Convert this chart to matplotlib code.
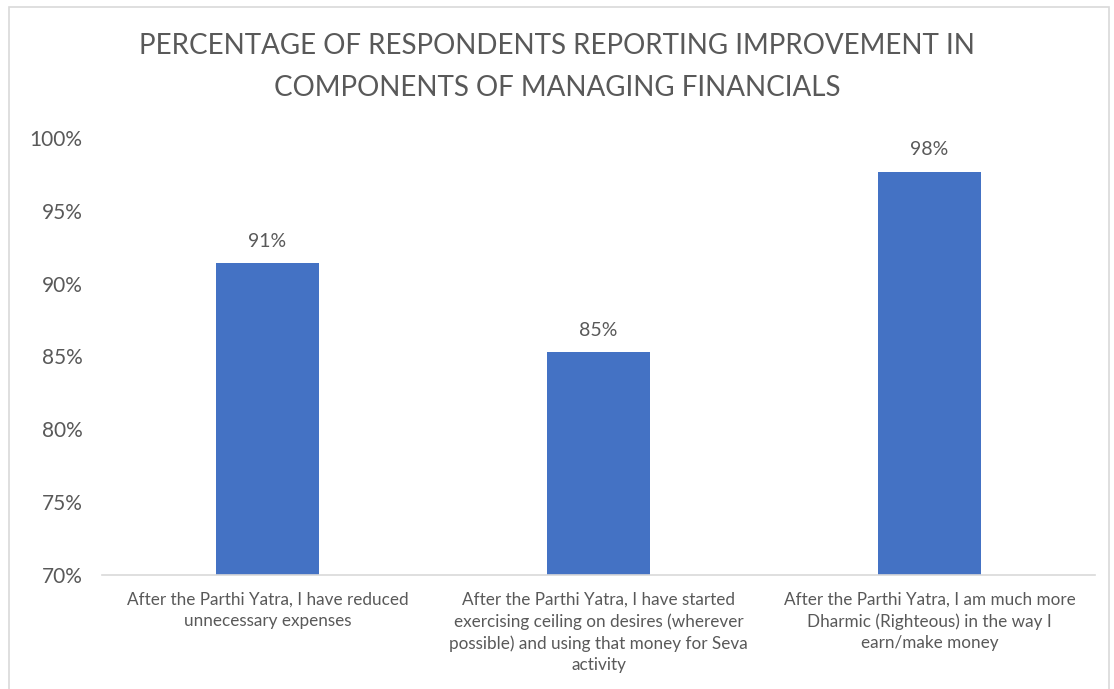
import matplotlib.pyplot as plt
from matplotlib.patches import Rectangle
from matplotlib.ticker import FuncFormatter

categories = [
    "After the Parthi Yatra, I have reduced\nunnecessary expenses",
    "After the Parthi Yatra, I have started\nexercising ceiling on desires (wherever\npossible) and using that money for Seva\nactivity",
    "After the Parthi Yatra, I am much more\nDharmic (Righteous) in the way I\nearn/make money",
]
values = [91.4, 85.3, 97.7]
y_ticks = [70, 75, 80, 85, 90, 95, 100]

text_color = "#595959"
bar_color = "#4472C4"

plt.rcParams["font.family"] = ["Lato", "DejaVu Sans"]

fig = plt.figure(figsize=(11.14, 6.89), dpi=100)
ax = fig.add_axes([102 / 1114, 1 - 575 / 689, 993 / 1114, (575 - 138) / 689])

x = range(len(categories))
bars = ax.bar(x, [v - 70 for v in values], bottom=70, width=0.314, color=bar_color)

for xi, v in zip(x, values):
    ax.text(xi, v + 0.9, "%.0f%%" % v, ha="center", va="bottom",
            fontsize=14, color=text_color)

ax.set_xlim(-0.5, 2.5)
ax.set_ylim(70, 100)
ax.set_yticks(y_ticks)
ax.yaxis.set_major_formatter(FuncFormatter(lambda v, p: "%d%%" % v))
ax.set_xticks(list(x))
ax.set_xticklabels(categories, fontsize=12.3, color=text_color, linespacing=1.4)
ax.tick_params(axis="y", length=0, pad=14, labelsize=15, labelcolor=text_color)
ax.tick_params(axis="x", length=0, pad=12)

for side in ["top", "right", "left"]:
    ax.spines[side].set_visible(False)
ax.spines["bottom"].set_color("#D9D9D9")
ax.spines["bottom"].set_linewidth(1.2)

fig.text(0.5, 1 - 67 / 689, "PERCENTAGE OF RESPONDENTS REPORTING IMPROVEMENT IN\nCOMPONENTS OF MANAGING FINANCIALS",
         ha="center", va="center", fontsize=20, color=text_color, linespacing=1.75)

# light frame around the chart area
fig.patches.append(Rectangle((9 / 1114, -0.01), 1100 / 1114, 1 - 7 / 689 + 0.01,
                             transform=fig.transFigure, fill=False,
                             edgecolor="#D9D9D9", linewidth=1.2))

fig.savefig("out.png", dpi=100)
